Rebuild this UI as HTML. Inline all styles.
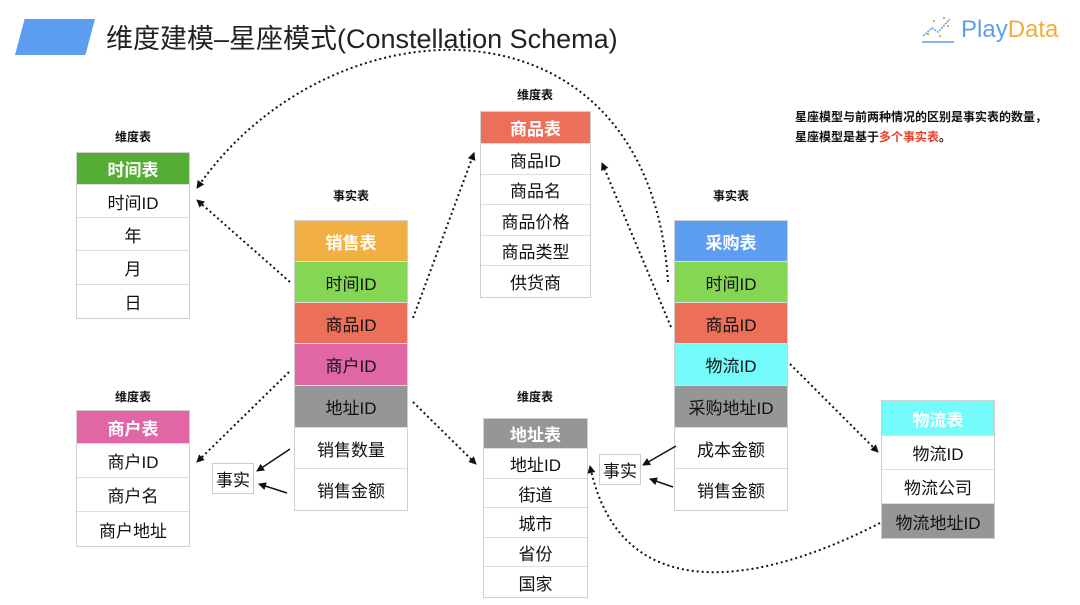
<!DOCTYPE html>
<html><head><meta charset="utf-8"><style>
*{margin:0;padding:0;box-sizing:border-box}
body{width:1080px;height:605px;background:#fff;position:relative;overflow:hidden;font-family:"Liberation Sans","Noto Sans CJK SC",sans-serif;color:#111}
.a{position:absolute}
.t{position:absolute;border:1px solid #cfcfcf;background:#fff}
.c{display:flex;align-items:center;justify-content:center;font-size:17px;border-bottom:1px solid #ddd;white-space:nowrap}
.c:last-child{border-bottom:none}
.h{color:#fff;font-weight:bold}
.lb{position:absolute;font-size:12px;font-weight:bold;text-align:center;width:120px}
.box{position:absolute;border:1px solid #ccc;font-size:17px;display:flex;align-items:center;justify-content:center;background:#fff}
</style></head><body>
<div class="a" style="left:15px;top:19px;width:80px;height:36px;background:#5e9ef0;clip-path:polygon(12% 0,100% 0,88% 100%,0 100%)"></div>
<div class="a" style="left:106px;top:17px;font-size:27px;color:#222;white-space:nowrap">维度建模–星座模式(Constellation Schema)</div>
<svg class="a" style="left:920px;top:14px" width="40" height="32"><path d="M3,22 L12,14 L18,18 L30,5" stroke="#5e9ef0" stroke-width="1.5" fill="none" stroke-dasharray="2 1"/><line x1="2" y1="28" x2="34" y2="28" stroke="#5e9ef0" stroke-width="1.5"/><circle cx="14" cy="7" r="1.2" fill="#f0ad3c"/><circle cx="24" cy="4" r="1.2" fill="#f0ad3c"/><circle cx="28" cy="12" r="1.2" fill="#f0ad3c"/><circle cx="20" cy="22" r="1.2" fill="#f0ad3c"/><circle cx="8" cy="20" r="1.2" fill="#f0ad3c"/></svg>
<div class="a" style="left:961px;top:16px;font-size:24px;white-space:nowrap"><span style="color:#5e9ef0">Play</span><span style="color:#f0ad3c">Data</span></div>
<div class="a" style="left:795px;top:107px;font-size:12px;font-weight:bold;line-height:20px;white-space:nowrap">星座模型与前两种情况的区别是事实表的数量，<br>星座模型是基于<span style="color:#e8402a">多个事实表</span>。</div>

<div class="lb" style="left:73px;top:128px">维度表</div>
<div class="t" style="left:76px;top:152px;width:114px">
<div class="c h" style="height:32px;background:#55ad34">时间表</div>
<div class="c" style="height:33px">时间ID</div><div class="c" style="height:33px">年</div><div class="c" style="height:34px">月</div><div class="c" style="height:33px">日</div></div>

<div class="lb" style="left:73px;top:388px">维度表</div>
<div class="t" style="left:76px;top:410px;width:114px">
<div class="c h" style="height:33px;background:#e066a6">商户表</div>
<div class="c" style="height:34px">商户ID</div><div class="c" style="height:34px">商户名</div><div class="c" style="height:34px">商户地址</div></div>

<div class="lb" style="left:291px;top:187px">事实表</div>
<div class="t" style="left:294px;top:220px;width:114px">
<div class="c h" style="height:41px;background:#f2b042">销售表</div>
<div class="c" style="height:41px;background:#84d653">时间ID</div>
<div class="c" style="height:41px;background:#ec6f59">商品ID</div>
<div class="c" style="height:42px;background:#e066a6">商户ID</div>
<div class="c" style="height:42px;background:#969696">地址ID</div>
<div class="c" style="height:41px">销售数量</div><div class="c" style="height:41px">销售金额</div></div>
<div class="box" style="left:212px;top:463px;width:42px;height:31px">事实</div>

<div class="lb" style="left:475px;top:86px">维度表</div>
<div class="t" style="left:480px;top:111px;width:111px">
<div class="c h" style="height:32px;background:#ec6f59">商品表</div>
<div class="c" style="height:31px">商品ID</div><div class="c" style="height:30px">商品名</div><div class="c" style="height:31px">商品价格</div><div class="c" style="height:30px">商品类型</div><div class="c" style="height:31px">供货商</div></div>

<div class="lb" style="left:475px;top:388px">维度表</div>
<div class="t" style="left:483px;top:418px;width:105px">
<div class="c h" style="height:30px;background:#969696">地址表</div>
<div class="c" style="height:30px">地址ID</div><div class="c" style="height:29px">街道</div><div class="c" style="height:30px">城市</div><div class="c" style="height:29px">省份</div><div class="c" style="height:30px">国家</div></div>

<div class="lb" style="left:671px;top:187px">事实表</div>
<div class="t" style="left:674px;top:220px;width:114px">
<div class="c h" style="height:41px;background:#5e9ef0">采购表</div>
<div class="c" style="height:41px;background:#84d653">时间ID</div>
<div class="c" style="height:41px;background:#ec6f59">商品ID</div>
<div class="c" style="height:42px;background:#74fbfb">物流ID</div>
<div class="c" style="height:42px;background:#969696">采购地址ID</div>
<div class="c" style="height:41px">成本金额</div><div class="c" style="height:41px">销售金额</div></div>
<div class="box" style="left:599px;top:454px;width:42px;height:31px">事实</div>

<div class="t" style="left:881px;top:400px;width:114px">
<div class="c h" style="height:35px;background:#74fbfb">物流表</div>
<div class="c" style="height:34px">物流ID</div><div class="c" style="height:34px">物流公司</div><div class="c" style="height:34px;background:#969696">物流地址ID</div></div>

<svg class="a" style="left:0;top:0" width="1080" height="605">
<defs><marker id="m" markerWidth="8" markerHeight="8" refX="7" refY="4" orient="auto" markerUnits="userSpaceOnUse"><path d="M0,0 L8,4 L0,8 Z" fill="#111"/></marker></defs>
<g stroke="#111" stroke-width="2" fill="none" stroke-dasharray="2 3">
<path d="M290,282 L197,200" marker-end="url(#m)"/>
<path d="M668,282 C650,-15 330,-5 197,188" marker-end="url(#m)"/>
<path d="M413,318 L474,153" marker-end="url(#m)"/>
<path d="M671,327 L602,163" marker-end="url(#m)"/>
<path d="M289,372 L197,462" marker-end="url(#m)"/>
<path d="M413,402 L476,464" marker-end="url(#m)"/>
<path d="M790,364 L878,452" marker-end="url(#m)"/>
<path d="M880,523 C760,585 620,610 590,466" marker-end="url(#m)"/>
</g>
<g stroke="#111" stroke-width="1.5" fill="none">
<path d="M290,449 L257,471" marker-end="url(#m)"/>
<path d="M287,493 L259,484" marker-end="url(#m)"/>
<path d="M676,446 L643,465" marker-end="url(#m)"/>
<path d="M673,487 L650,479" marker-end="url(#m)"/>
</g>
</svg>
</body></html>
